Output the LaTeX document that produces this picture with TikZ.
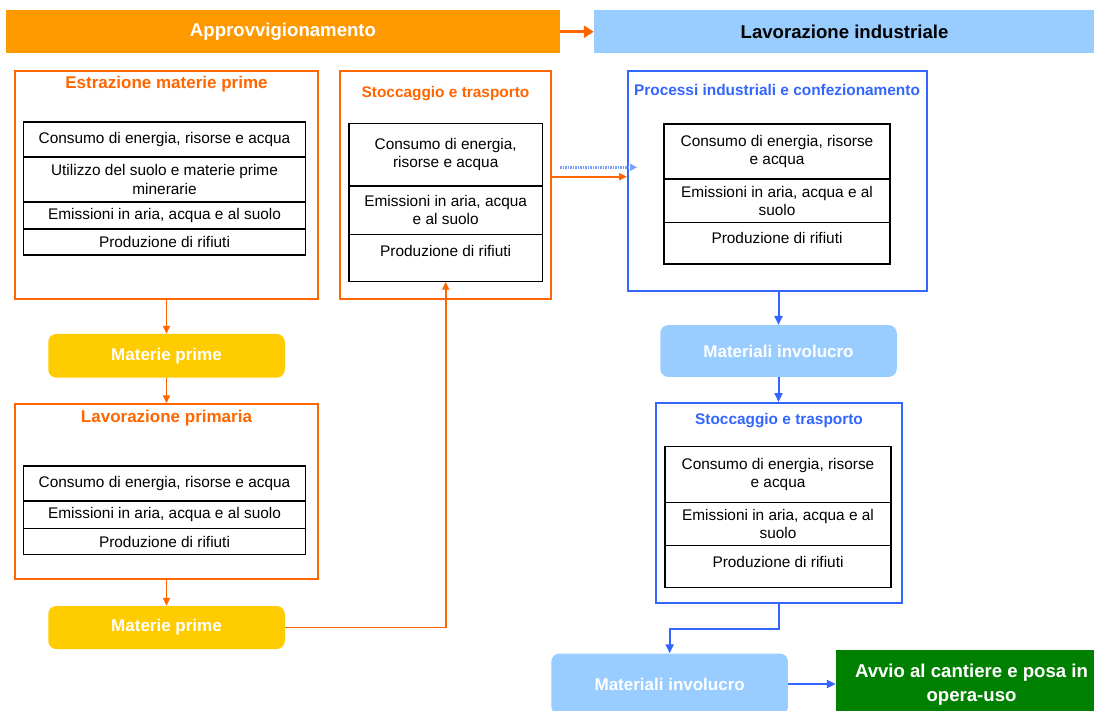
\documentclass[tikz,border=0pt]{standalone}
\usepackage{fontspec}
\setmainfont{Liberation Sans}
\definecolor{SupplyOrange}{RGB}{255,153,0}
\definecolor{LineOrange}{RGB}{255,102,0}
\definecolor{RawGold}{RGB}{255,204,0}
\definecolor{SkyBlue}{RGB}{153,204,255}
\definecolor{FrameBlue}{RGB}{51,102,255}
\definecolor{DotBlue}{RGB}{120,160,255}
\definecolor{SiteGreen}{RGB}{0,128,0}
\usetikzlibrary{positioning, arrows.meta}
\tikzstyle{header} = [inner sep=0pt, minimum height=43.3pt, font=\fontsize{18.6}{22}\selectfont\bfseries]
\tikzstyle{frameor} = [draw=LineOrange, line width=1.5pt]
\tikzstyle{frameblue} = [draw=FrameBlue, line width=2pt]
\tikzstyle{cell} = [draw=black, line width=1.5pt, fill=white, outer sep=0pt, inner sep=0pt, align=center, font=\fontsize{15.4}{18.5}\selectfont]
\tikzstyle{titlebig} = [text=LineOrange, font=\fontsize{17}{20}\selectfont\bfseries]
\tikzstyle{titlesmall} = [font=\fontsize{15.4}{18}\selectfont\bfseries]
\tikzstyle{pill} = [rounded corners=8pt, text=white, minimum width=236.5pt, font=\fontsize{17}{20}\selectfont\bfseries]
\tikzstyle{headarrow} = [line width=3.5pt, LineOrange, -{Triangle[length=10pt,width=12pt]}]
\tikzstyle{orangearrow} = [line width=1.8pt, LineOrange, -{Triangle[length=8pt,width=7pt]}]
\tikzstyle{bluearrow} = [line width=2pt, FrameBlue, -{Triangle[length=9pt,width=8pt]}]
\tikzstyle{dotarrow} = [line width=3pt, DotBlue, dash pattern=on 1.5pt off 1pt, -{Triangle[length=7pt,width=7pt]}]
\begin{document}
\begin{tikzpicture}[x=1pt, y=-1pt]
            \path[use as bounding box, fill=white] (0,0) rectangle (1094,710);

            % phase headers
            \node[header, fill=SupplyOrange, text=white, minimum width=554pt] (appr) at (283,31.7) {Approvvigionamento};
            \node[header, fill=SkyBlue, minimum width=501pt] (lavi) at (844.5,31.7) {Lavorazione industriale};
            \draw[headarrow] (appr.east) -- (lavi.west);

            % estrazione materie prime
            \node[frameor, minimum width=303pt, minimum height=228pt] (estr) at (166.5,185) {};
            \node[titlebig] (estrT) at (166.5,84) {Estrazione materie prime};
            \node[cell, minimum width=282pt, minimum height=35pt, anchor=north] (estr1) at (164.5,122) {Consumo di energia, risorse e acqua};
            \node[cell, minimum width=282pt, minimum height=45pt, below=0pt of estr1] (estr2) {Utilizzo del suolo e materie prime\\minerarie};
            \node[cell, minimum width=282pt, minimum height=27pt, below=0pt of estr2] (estr3) {Emissioni in aria, acqua e al suolo};
            \node[cell, minimum width=282pt, minimum height=26pt, below=0pt of estr3] (estr4) {Produzione di rifiuti};

            \node[pill, fill=RawGold, minimum height=43.7pt] (mp1) at (166.5,355.8) {Materie prime};

            % lavorazione primaria
            \node[frameor, minimum width=303pt, minimum height=175pt] (lavp) at (166.5,491.5) {};
            \node[titlebig] (lavpT) at (166.5,418) {Lavorazione primaria};
            \node[cell, minimum width=282pt, minimum height=35pt, anchor=north] (lavp1) at (164.5,466) {Consumo di energia, risorse e acqua};
            \node[cell, minimum width=282pt, minimum height=27.6pt, below=0pt of lavp1] (lavp2) {Emissioni in aria, acqua e al suolo};
            \node[cell, minimum width=282pt, minimum height=26pt, below=0pt of lavp2] (lavp3) {Produzione di rifiuti};

            \node[pill, fill=RawGold, minimum height=43pt] (mp2) at (166.5,627.5) {Materie prime};

            % stoccaggio e trasporto (approvvigionamento)
            \node[frameor, minimum width=211pt, minimum height=228pt] (stoc) at (445.5,185) {};
            \node[titlesmall, text=LineOrange] (stocT) at (445.5,94) {Stoccaggio e trasporto};
            \node[cell, minimum width=193.3pt, minimum height=62.7pt, anchor=north] (stoc1) at (445.7,123.3) {Consumo di energia,\\risorse e acqua};
            \node[cell, minimum width=193.3pt, minimum height=48.3pt, below=0pt of stoc1] (stoc2) {Emissioni in aria, acqua\\e al suolo};
            \node[cell, minimum width=193.3pt, minimum height=47.4pt, text depth=14pt, below=0pt of stoc2] (stoc3) {Produzione di rifiuti};

            % processi industriali
            \node[frameblue, minimum width=299pt, minimum height=220pt] (proc) at (777.5,181) {};
            \node[titlesmall, text=FrameBlue] (procT) at (777,89.5) {Processi industriali e confezionamento};
            \node[cell, minimum width=225.7pt, minimum height=55pt, anchor=north] (proc1) at (777,124) {Consumo di energia, risorse\\e acqua};
            \node[cell, minimum width=225.7pt, minimum height=43.7pt, below=0pt of proc1] (proc2) {Emissioni in aria, acqua e al\\suolo};
            \node[cell, minimum width=225.7pt, minimum height=41.3pt, text depth=10pt, below=0pt of proc2] (proc3) {Produzione di rifiuti};

            \node[pill, fill=SkyBlue, minimum height=51.7pt] (mi1) at (778.5,351) {Materiali involucro};

            % stoccaggio e trasporto (lavorazione industriale)
            \node[frameblue, minimum width=246pt, minimum height=200pt] (stocb) at (779,503) {};
            \node[titlesmall, text=FrameBlue] (stocbT) at (779,421) {Stoccaggio e trasporto};
            \node[cell, minimum width=225.7pt, minimum height=55.6pt, anchor=north] (stocb1) at (778,446.7) {Consumo di energia, risorse\\e acqua};
            \node[cell, minimum width=225.7pt, minimum height=43.4pt, below=0pt of stocb1] (stocb2) {Emissioni in aria, acqua e al\\suolo};
            \node[cell, minimum width=225.7pt, minimum height=41.6pt, text depth=10pt, below=0pt of stocb2] (stocb3) {Produzione di rifiuti};

            \node[pill, fill=SkyBlue, minimum height=61pt] (mi2) at (669.7,684) {Materiali involucro};
            \node[fill=SiteGreen, text=white, minimum width=271pt, minimum height=70pt, align=center, font=\fontsize{18.6}{24}\selectfont\bfseries] (avvio) at (971.5,685) {Avvio al cantiere e posa in\\opera-uso};

            % connectors
            \draw[orangearrow] (estr.south) -- (mp1.north);
            \draw[orangearrow] (mp1.south) -- (lavp.north);
            \draw[orangearrow] (lavp.south) -- (mp2.north);
            \draw[orangearrow] (mp2.east) -| (stoc3.south);
            \draw[orangearrow] ([yshift=8.3pt]stoc.east) -- ([yshift=4.3pt]proc.west);
            \coordinate (dotA) at (560,167.3);
            \coordinate (dotB) at (637,167.3);
            \draw[dotarrow] (dotA) -- (dotB);
            \draw[bluearrow] (proc.south -| mi1.north) -- (mi1.north);
            \draw[bluearrow] (mi1.south) -- (mi1.south |- stocb.north);
            \draw[bluearrow] (stocb.south) -- ++(0,24.5) -| (mi2.north);
            \draw[bluearrow] (mi2.east) -- (mi2.east -| avvio.west);
\end{tikzpicture}
\end{document}
